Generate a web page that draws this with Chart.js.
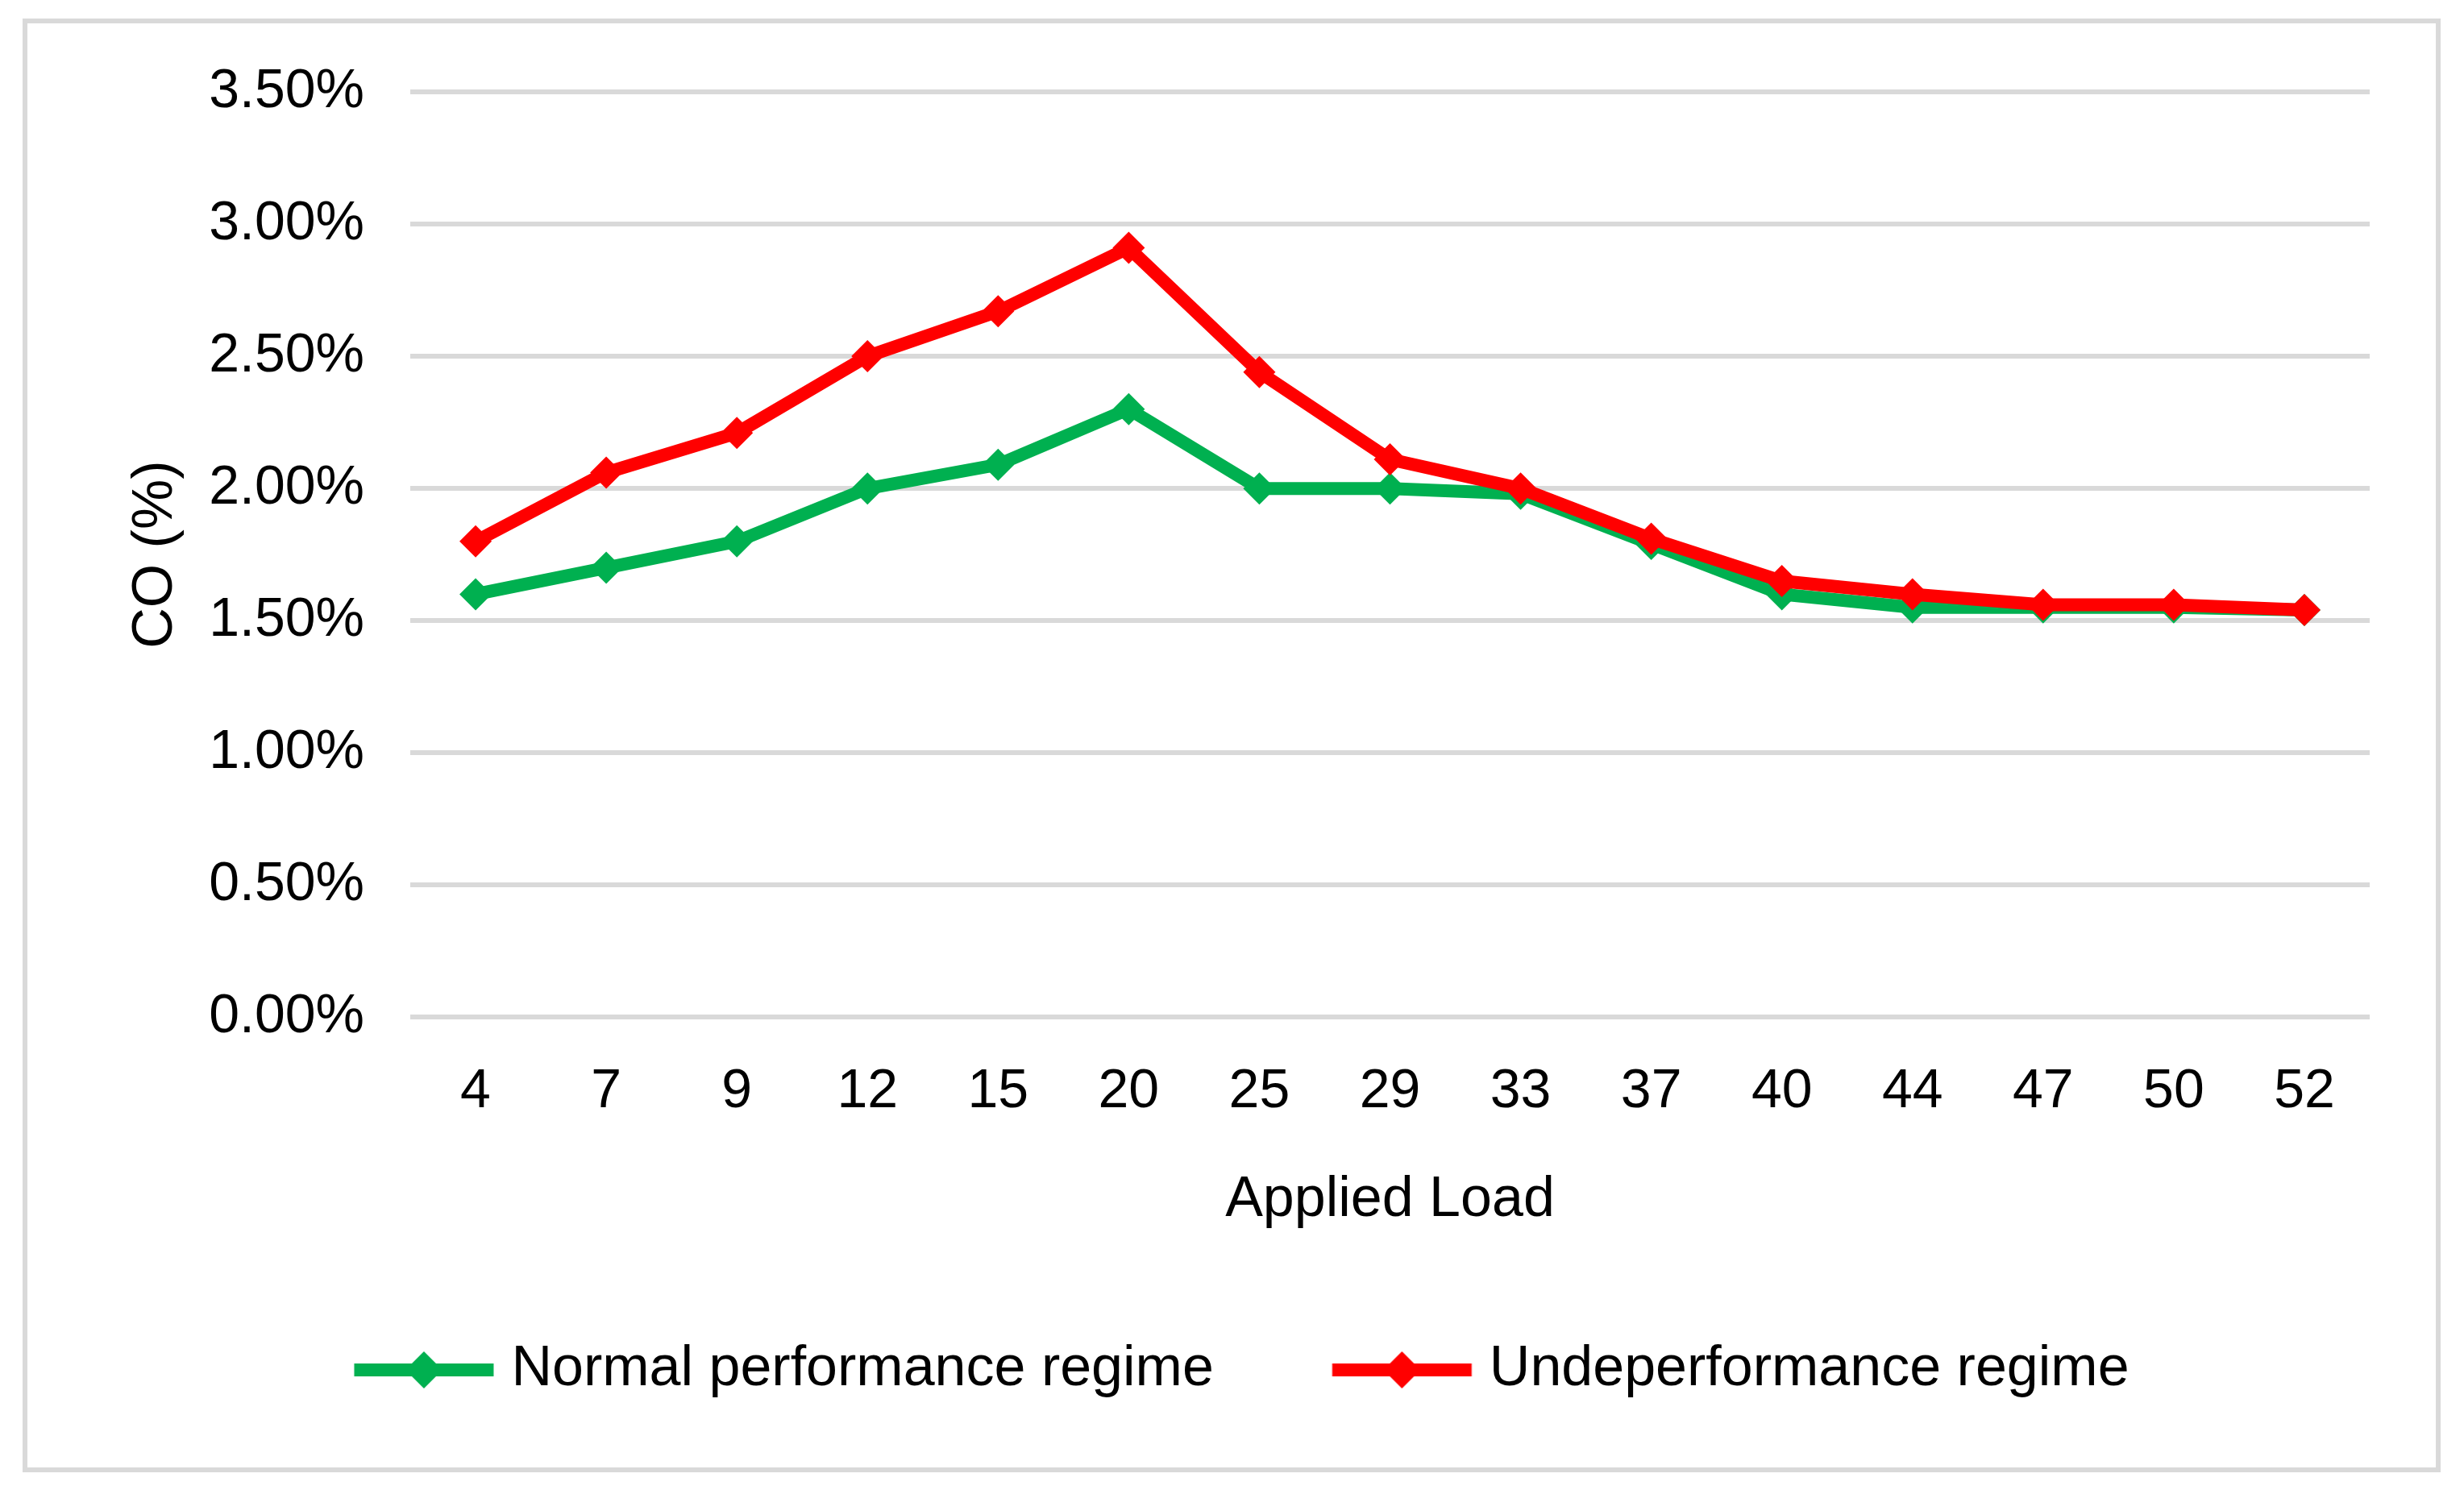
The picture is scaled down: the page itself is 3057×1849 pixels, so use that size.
<!DOCTYPE html>
<html>
<head>
<meta charset="utf-8">
<script src="https://cdn.jsdelivr.net/npm/chart.js@4"></script>
<style>
  html, body { margin: 0; padding: 0; background: #fff; }
  #frame {
    position: absolute; left: 28px; top: 23px;
    width: 3000px; height: 1804px; box-sizing: border-box;
    border: 6px solid #d9d9d9; background: #fff;
  }
  #chart { display: block; }
</style>
</head>
<body>
<div id="frame"><canvas id="chart" width="2988" height="1792"></canvas></div>
<script>
// applied load (x categories)
const loads = ['4', '7', '9', '12', '15', '20', '25', '29', '33', '37', '40', '44', '47', '50', '52'];
// CO (%) per regime
const normalCO = [1.60, 1.70, 1.80, 2.00, 2.09, 2.30, 2.00, 2.00, 1.98, 1.79, 1.60, 1.55, 1.55, 1.55, 1.54];
const underCO = [1.80, 2.06, 2.21, 2.50, 2.67, 2.91, 2.44, 2.11, 2.00, 1.81, 1.65, 1.60, 1.56, 1.56, 1.54];
const seriesNames = ['Normal performance regime', 'Undeperformance regime'];
const seriesColors = ['#00b050', '#ff0000'];

Chart.defaults.font.family = "'Liberation Sans', Arial, sans-serif";
Chart.defaults.color = '#000';

// legend sample: line with a diamond, like the Excel legend
function legendSample(color) {
  const c = document.createElement('canvas');
  c.width = 300;
  c.height = 50;
  const g = c.getContext('2d');
  const x0 = 123.5, len = 173, mid = 25;
  g.strokeStyle = color;
  g.lineWidth = 16;
  g.beginPath();
  g.moveTo(x0, mid);
  g.lineTo(x0 + len, mid);
  g.stroke();
  g.fillStyle = color;
  const cx = x0 + len / 2, r = 23;
  g.beginPath();
  g.moveTo(cx, mid - r);
  g.lineTo(cx + r, mid);
  g.lineTo(cx, mid + r);
  g.lineTo(cx - r, mid);
  g.closePath();
  g.fill();
  return c;
}
const samples = seriesColors.map(legendSample);

new Chart(document.getElementById('chart'), {
  type: 'line',
  data: {
    labels: loads,
    datasets: [{
      label: seriesNames[0],
      data: normalCO,
      borderColor: seriesColors[0],
      backgroundColor: seriesColors[0],
      borderWidth: 16,
      pointStyle: 'rectRot',
      pointRadius: 20,
      pointBorderWidth: 0,
      tension: 0,
      order: 2
    }, {
      label: seriesNames[1],
      data: underCO,
      borderColor: seriesColors[1],
      backgroundColor: seriesColors[1],
      borderWidth: 16,
      pointStyle: 'rectRot',
      pointRadius: 20,
      pointBorderWidth: 0,
      tension: 0,
      order: 1
    }]
  },
  options: {
    responsive: false,
    animation: false,
    devicePixelRatio: 1,
    layout: { padding: { left: 0, top: 85, right: 82, bottom: 76 } },
    plugins: {
      tooltip: { enabled: false },
      legend: {
        position: 'bottom',
        labels: {
          font: { size: 70 },
          color: '#000',
          padding: 40,
          usePointStyle: true,
          pointStyleWidth: 267,
          sort: (a, b) => a.datasetIndex - b.datasetIndex,
          generateLabels(chart) {
            const items = Chart.defaults.plugins.legend.labels.generateLabels(chart);
            items.forEach(it => { it.pointStyle = samples[it.datasetIndex]; });
            return items;
          }
        }
      }
    },
    scales: {
      x: {
        offset: true,
        grid: { display: false, drawTicks: false },
        border: { display: false },
        ticks: { font: { size: 68 }, color: '#000', padding: 52, maxRotation: 0 },
        title: {
          display: true,
          text: 'Applied Load',
          font: { size: 70 },
          color: '#000',
          padding: { top: 0, bottom: 93 }
        }
      },
      y: {
        min: 0,
        max: 3.5,
        grid: { color: '#d9d9d9', lineWidth: 6, drawTicks: true, tickLength: 57, tickColor: 'rgba(0,0,0,0)' },
        border: { display: false },
        ticks: {
          stepSize: 0.5,
          font: { size: 68 },
          color: '#000',
          padding: 0,
          callback: v => v.toFixed(2) + '%'
        },
        title: {
          display: true,
          text: 'CO (%)',
          font: { size: 70 },
          color: '#000',
          padding: { top: 118, bottom: 0 }
        },
        afterFit(scale) { scale.width = 475; }
      }
    }
  }
});
</script>
</body>
</html>
